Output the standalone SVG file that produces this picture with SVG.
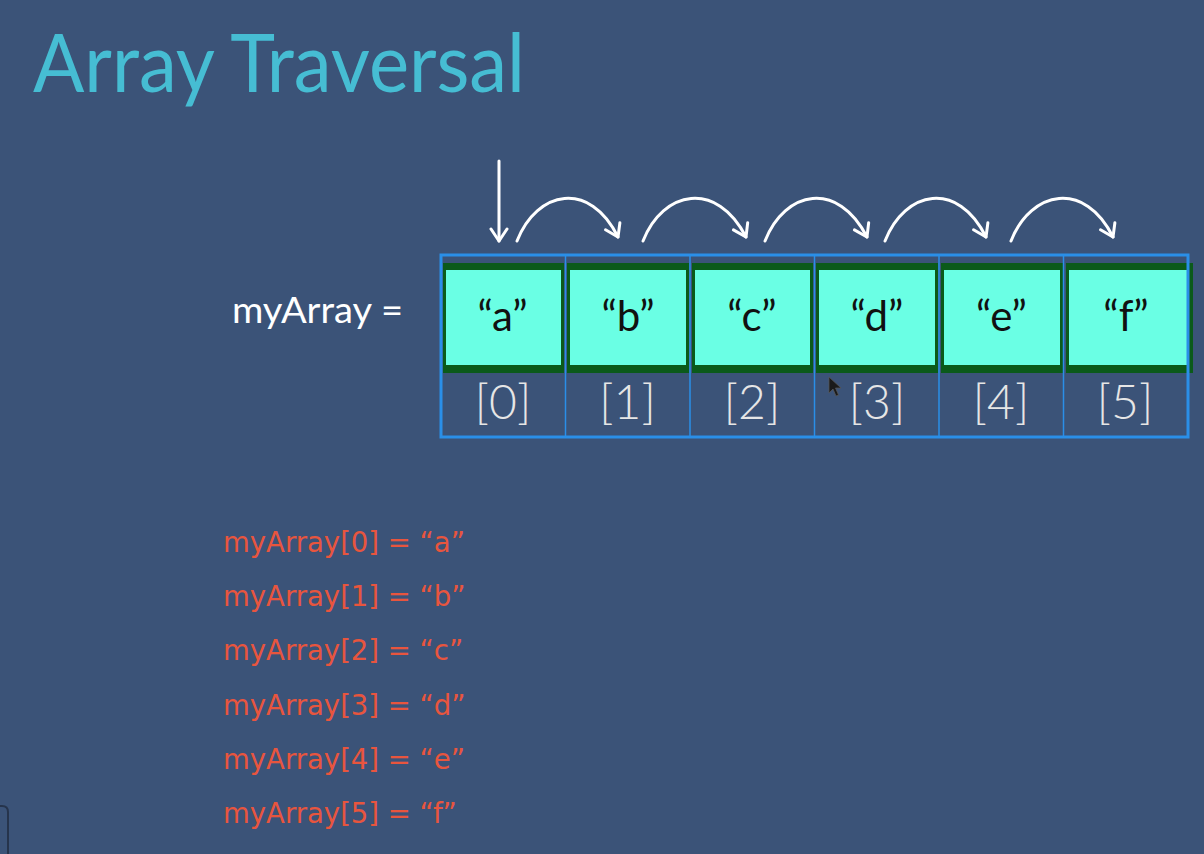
<svg xmlns="http://www.w3.org/2000/svg" width="1204" height="854" viewBox="0 0 1204 854">
<defs>
<style>
.title{font-family:Lato,"Noto Sans",sans-serif;font-weight:400;font-size:82px;fill:#46BDD3}
.lbl{font-family:Lato,"Noto Sans",sans-serif;font-size:37px;fill:#FFFFFF}
.val{font-family:Lato,"Noto Sans",sans-serif;font-size:42px;fill:#111111;text-anchor:middle}
.idx{font-family:Lato,"Noto Sans",sans-serif;font-weight:300;font-size:48px;fill:#E6E6E6;text-anchor:middle}
.code{font-family:"DejaVu Sans",Verdana,sans-serif;font-size:27.5px;fill:#E8553E}
.edge{fill:#0B5A1A}
.face{fill:#6AFFE4}
.arr{fill:none;stroke:#FFFFFF;stroke-width:3;stroke-linecap:round;marker-end:url(#head)}
</style>
<marker id="head" viewBox="0 0 20 20" refX="14" refY="10" markerWidth="20" markerHeight="20" markerUnits="userSpaceOnUse" orient="auto">
<polyline points="2,2 14,10 2,18" fill="none" stroke="#FFFFFF" stroke-width="3" stroke-linecap="round" stroke-linejoin="round"/>
</marker>
</defs>
<rect width="1204" height="854" fill="#3B5378"/>
<text class="title" x="33" y="92" textLength="492" lengthAdjust="spacingAndGlyphs">Array Traversal</text>
<text class="lbl" x="232" y="323" textLength="171" lengthAdjust="spacingAndGlyphs">myArray =</text>

<g id="cell0">
<rect class="edge" x="443" y="263" width="121" height="110"/>
<rect class="face" x="446" y="270" width="115" height="95"/>
<text class="val" x="502.5" y="331">“a”</text>
<text class="idx" x="503" y="419">[0]</text>
</g>
<g id="cell1">
<rect class="edge" x="567" y="263" width="122" height="110"/>
<rect class="face" x="570" y="270" width="116" height="95"/>
<text class="val" x="628" y="331">“b”</text>
<text class="idx" x="627.5" y="419">[1]</text>
</g>
<g id="cell2">
<rect class="edge" x="692" y="263" width="121" height="110"/>
<rect class="face" x="695" y="270" width="115" height="95"/>
<text class="val" x="752" y="331">“c”</text>
<text class="idx" x="752" y="419">[2]</text>
</g>
<g id="cell3">
<rect class="edge" x="816" y="263" width="122" height="110"/>
<rect class="face" x="819" y="270" width="116" height="95"/>
<text class="val" x="877" y="331">“d”</text>
<text class="idx" x="877" y="419">[3]</text>
</g>
<g id="cell4">
<rect class="edge" x="941" y="263" width="122" height="110"/>
<rect class="face" x="944" y="270" width="116" height="95"/>
<text class="val" x="1001.5" y="331">“e”</text>
<text class="idx" x="1001" y="419">[4]</text>
</g>
<g id="cell5">
<rect class="edge" x="1066" y="263" width="127" height="110"/>
<rect class="face" x="1069" y="270" width="118" height="95"/>
<text class="val" x="1126" y="331">“f”</text>
<text class="idx" x="1125" y="419">[5]</text>
</g>

<g id="array">
<rect x="441" y="255" width="747" height="182" fill="none" stroke="#2A8FE8" stroke-width="3"/>
<g stroke="#2A8FE8" stroke-width="1.5">
<line x1="565.5" y1="255" x2="565.5" y2="437"/>
<line x1="690" y1="255" x2="690" y2="437"/>
<line x1="814.5" y1="255" x2="814.5" y2="437"/>
<line x1="939" y1="255" x2="939" y2="437"/>
<line x1="1063.5" y1="255" x2="1063.5" y2="437"/>
</g>
</g>

<g id="connectors">
<path class="arr" d="M499,161 V241"/>
<path class="arr" d="M517,241 C537,190 590,180 618,237"/>
<path class="arr" d="M643,241 C663,190 717,180 746,237"/>
<path class="arr" d="M765,241 C785,190 838,180 867,237"/>
<path class="arr" d="M885,241 C905,190 958,180 986,237"/>
<path class="arr" d="M1011,241 C1031,190 1085,180 1113,237"/>
</g>

<g id="code">
<text class="code" x="223" y="552">myArray[0] = “a”</text>
<text class="code" x="223" y="606">myArray[1] = “b”</text>
<text class="code" x="223" y="660">myArray[2] = “c”</text>
<text class="code" x="223" y="715">myArray[3] = “d”</text>
<text class="code" x="223" y="769">myArray[4] = “e”</text>
<text class="code" x="223" y="823">myArray[5] = “f”</text>
</g>

<path d="M829,377 L829,393 L833,389 L836,396 L838.5,395 L835.5,388 L841,388 Z" fill="#1A1A1A" stroke="#555" stroke-width="0.8"/>
<path d="M0,806 H2 Q8,806 8,812 V854" fill="none" stroke="#26344C" stroke-width="2"/>
</svg>
